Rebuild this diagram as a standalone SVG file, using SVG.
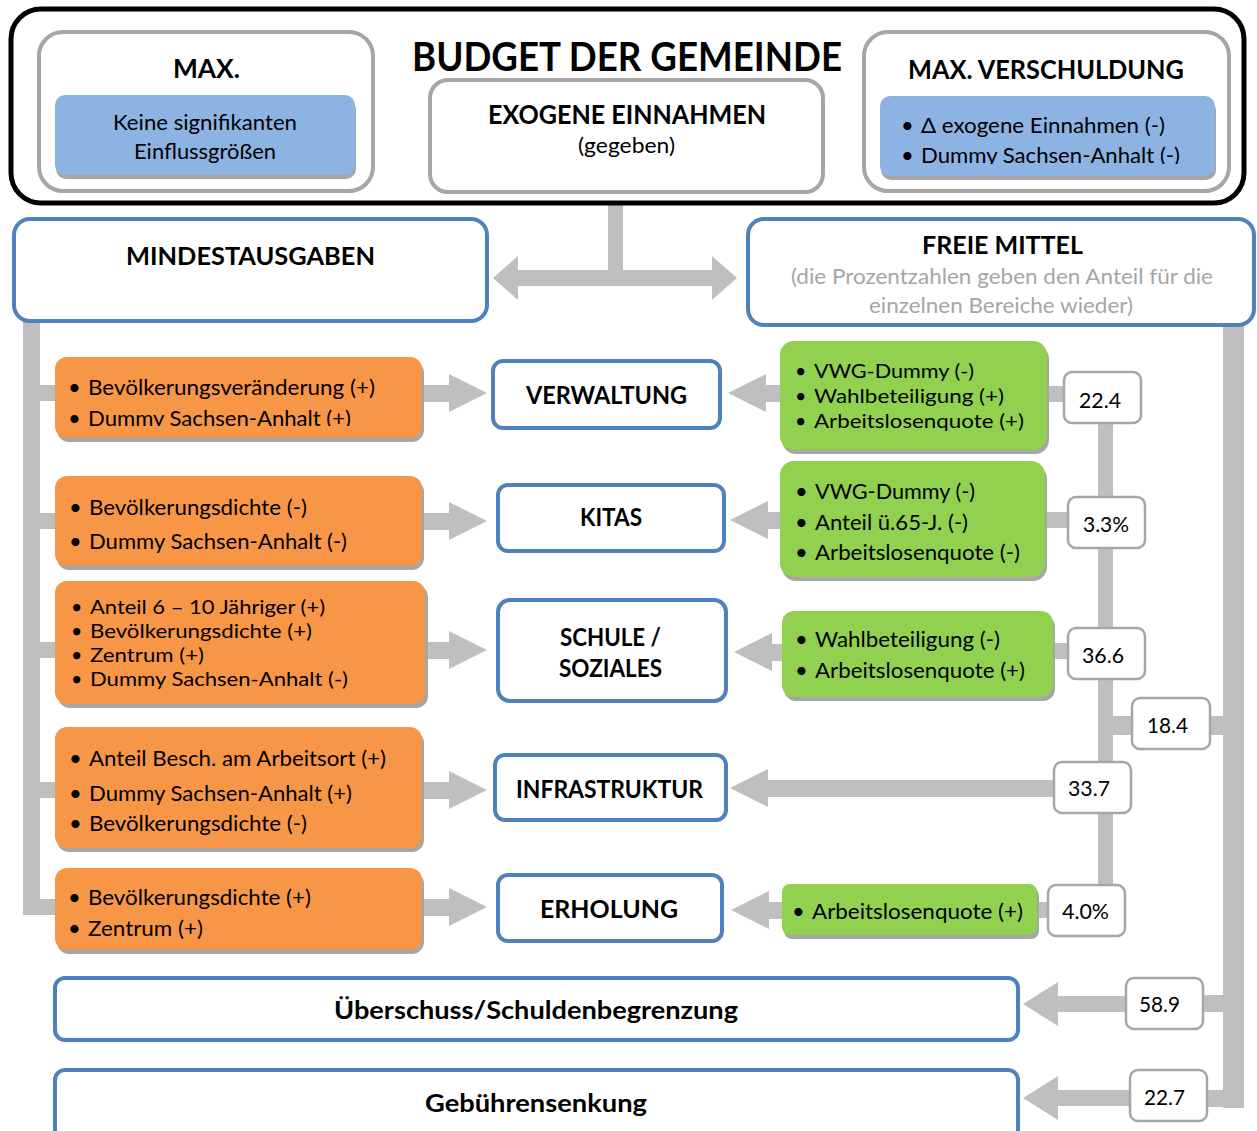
<svg xmlns="http://www.w3.org/2000/svg" width="1257" height="1131" viewBox="0 0 1257 1131">
<style>
text{font-family:Lato,"Liberation Sans",sans-serif;fill:#000}
.b{font-weight:bold}
.t19{font-size:19.5px}
.t20{font-size:21.5px}
.t21{font-size:22px}
.t24{font-size:25px}
.t25{font-size:26px}
.grey{fill:#a6a6a6}
.blk{fill:#fff;stroke:#000;stroke-width:5}
.gbox{fill:#fff;stroke:#a6a6a6;stroke-width:4}
.bbox{fill:#fff;stroke:#4f81bd;stroke-width:4}
.nbox{fill:#fff;stroke:#a6a6a6;stroke-width:2.5}
.blue{fill:#8db3e2}
.org{fill:#f79646}
.grn{fill:#92d050}
.shd{fill:#a6a6a6}
.con{fill:#bfbfbf}
</style>
<defs>
<clipPath id="clipO1"><rect x="55" y="357" width="367" height="69"/></clipPath>
<clipPath id="clipMV"><rect x="880" y="96" width="335" height="68"/></clipPath>
</defs>

<g id="connectors">
<rect class="con" x="608" y="203" width="15" height="70"/>
<rect class="con" x="517" y="270" width="196" height="16"/>
<polygon class="con" points="493,278 518,256 518,300"/>
<polygon class="con" points="737,278 712,256 712,300"/>
<rect class="con" x="23" y="321" width="17" height="594"/>
<rect class="con" x="23" y="899" width="34" height="16"/>
<rect class="con" x="38" y="385" width="19" height="16"/>
<rect class="con" x="38" y="513" width="19" height="16"/>
<rect class="con" x="38" y="642" width="19" height="16"/>
<rect class="con" x="38" y="782" width="19" height="16"/>
<rect class="con" x="420" y="385" width="30" height="17"/>
<polygon class="con" points="449,374 487,393 449,412"/>
<rect class="con" x="420" y="513" width="30" height="17"/>
<polygon class="con" points="449,502 487,521 449,540"/>
<rect class="con" x="420" y="642" width="30" height="17"/>
<polygon class="con" points="449,631 487,650 449,669"/>
<rect class="con" x="420" y="782" width="30" height="17"/>
<polygon class="con" points="449,771 487,790 449,809"/>
<rect class="con" x="420" y="899" width="30" height="17"/>
<polygon class="con" points="449,888 487,907 449,926"/>
<polygon class="con" points="728,393 766,374 766,412"/>
<rect class="con" x="765" y="385" width="17" height="17"/>
<rect class="con" x="1045" y="386" width="21" height="16"/>
<polygon class="con" points="730,520 768,501 768,539"/>
<rect class="con" x="767" y="512" width="15" height="17"/>
<rect class="con" x="1043" y="512" width="27" height="16"/>
<polygon class="con" points="734,652 772,633 772,671"/>
<rect class="con" x="771" y="644" width="13" height="17"/>
<rect class="con" x="1051" y="643" width="19" height="16"/>
<polygon class="con" points="730,788 768,769 768,807"/>
<rect class="con" x="767" y="780" width="289" height="17"/>
<polygon class="con" points="731,910 769,891 769,929"/>
<rect class="con" x="768" y="902" width="16" height="17"/>
<rect class="con" x="1035" y="902" width="15" height="16"/>
<rect class="con" x="1098" y="422" width="15" height="464"/>
<rect class="con" x="1105" y="716" width="29" height="19"/>
<rect class="con" x="1223" y="324" width="21" height="784"/>
<rect class="con" x="1208" y="716" width="17" height="19"/>
<rect class="con" x="1201" y="995" width="24" height="17"/>
<rect class="con" x="1205" y="1090" width="39" height="17"/>
<polygon class="con" points="1023,1004 1058,982 1058,1026"/>
<rect class="con" x="1057" y="996" width="71" height="16"/>
<polygon class="con" points="1023,1098 1058,1076 1058,1120"/>
<rect class="con" x="1057" y="1090" width="75" height="16"/>
</g>

<g id="budget">
<rect class="blk" x="11" y="9" width="1233" height="194" rx="30"/>
<text class="b" x="412" y="71" font-size="40" textLength="430" lengthAdjust="spacingAndGlyphs">BUDGET DER GEMEINDE</text>
</g>

<g id="max">
<rect class="gbox" x="39" y="32" width="334" height="159" rx="24"/>
<text class="b t25" x="173" y="78" textLength="67" lengthAdjust="spacingAndGlyphs">MAX.</text>
<rect class="shd" x="56" y="99" width="300" height="80" rx="10"/>
<rect class="blue" x="55" y="95" width="300" height="80" rx="10"/>
<text class="t21" x="113" y="130" textLength="184" lengthAdjust="spacingAndGlyphs">Keine signifikanten</text>
<text class="t21" x="134" y="159" textLength="142" lengthAdjust="spacingAndGlyphs">Einflussgrößen</text>
</g>

<g id="exogen">
<rect class="gbox" x="430" y="80" width="393" height="112" rx="18"/>
<text class="b t25" x="488" y="124" textLength="278" lengthAdjust="spacingAndGlyphs">EXOGENE EINNAHMEN</text>
<text class="t20" x="578" y="153" textLength="97" lengthAdjust="spacingAndGlyphs">(gegeben)</text>
</g>

<g id="maxversch">
<rect class="gbox" x="864" y="32" width="365" height="159" rx="24"/>
<text class="b t25" x="908" y="79" textLength="276" lengthAdjust="spacingAndGlyphs">MAX. VERSCHULDUNG</text>
<rect class="shd" x="881" y="100" width="335" height="80" rx="10"/>
<rect class="blue" x="880" y="96" width="335" height="80" rx="10"/>
<g clip-path="url(#clipMV)">
<text class="t21" x="901" y="133">•</text>
<text class="t21" x="921" y="133" textLength="244" lengthAdjust="spacingAndGlyphs">Δ exogene Einnahmen (-)</text>
<text class="t21" x="901" y="163">•</text>
<text class="t21" x="921" y="163" textLength="259" lengthAdjust="spacingAndGlyphs">Dummy Sachsen-Anhalt (-)</text>
</g>
</g>

<g id="mindest">
<rect class="bbox" x="14" y="219" width="473" height="102" rx="16"/>
<text class="b t24" x="126" y="265" textLength="249" lengthAdjust="spacingAndGlyphs">MINDESTAUSGABEN</text>
</g>

<g id="freie">
<rect class="bbox" x="748" y="219" width="506" height="106" rx="16"/>
<text class="b t24" x="922" y="254" textLength="161" lengthAdjust="spacingAndGlyphs">FREIE MITTEL</text>
<text class="t20 grey" x="791" y="284" textLength="422" lengthAdjust="spacingAndGlyphs">(die Prozentzahlen geben den Anteil für die</text>
<text class="t20 grey" x="869" y="313" textLength="264" lengthAdjust="spacingAndGlyphs">einzelnen Bereiche wieder)</text>
</g>

<g id="o1">
<rect class="shd" x="57" y="361" width="367" height="81" rx="12"/>
<rect class="org" x="55" y="357" width="367" height="81" rx="12"/>
<g clip-path="url(#clipO1)">
<text class="t21" x="68" y="395">•</text>
<text class="t20" x="88" y="395" textLength="287" lengthAdjust="spacingAndGlyphs">Bevölkerungsveränderung (+)</text>
<text class="t21" x="68" y="426">•</text>
<text class="t20" x="88" y="426" textLength="263" lengthAdjust="spacingAndGlyphs">Dummy Sachsen-Anhalt (+)</text>
</g>
</g>

<g id="o2">
<rect class="shd" x="57" y="480" width="367" height="90" rx="12"/>
<rect class="org" x="55" y="476" width="367" height="90" rx="12"/>
<text class="t21" x="69" y="515">•</text>
<text class="t20" x="89" y="515" textLength="218" lengthAdjust="spacingAndGlyphs">Bevölkerungsdichte (-)</text>
<text class="t21" x="69" y="549">•</text>
<text class="t20" x="89" y="549" textLength="258" lengthAdjust="spacingAndGlyphs">Dummy Sachsen-Anhalt (-)</text>
</g>

<g id="o3">
<rect class="shd" x="58" y="585" width="370" height="123" rx="12"/>
<rect class="org" x="55" y="581" width="370" height="123" rx="12"/>
<text class="t19" x="71" y="614">•</text>
<text class="t19" x="90" y="614" textLength="235" lengthAdjust="spacingAndGlyphs">Anteil 6 – 10 Jähriger (+)</text>
<text class="t19" x="71" y="638">•</text>
<text class="t19" x="90" y="638" textLength="222" lengthAdjust="spacingAndGlyphs">Bevölkerungsdichte (+)</text>
<text class="t19" x="71" y="662">•</text>
<text class="t19" x="90" y="662" textLength="114" lengthAdjust="spacingAndGlyphs">Zentrum (+)</text>
<text class="t19" x="71" y="686">•</text>
<text class="t19" x="90" y="686" textLength="258" lengthAdjust="spacingAndGlyphs">Dummy Sachsen-Anhalt (-)</text>
</g>

<g id="o4">
<rect class="shd" x="57" y="731" width="367" height="121" rx="12"/>
<rect class="org" x="55" y="727" width="367" height="121" rx="12"/>
<text class="t21" x="69" y="766">•</text>
<text class="t20" x="89" y="766" textLength="297" lengthAdjust="spacingAndGlyphs">Anteil Besch. am Arbeitsort (+)</text>
<text class="t21" x="69" y="801">•</text>
<text class="t20" x="89" y="801" textLength="263" lengthAdjust="spacingAndGlyphs">Dummy Sachsen-Anhalt (+)</text>
<text class="t21" x="69" y="831">•</text>
<text class="t20" x="89" y="831" textLength="218" lengthAdjust="spacingAndGlyphs">Bevölkerungsdichte (-)</text>
</g>

<g id="o5">
<rect class="shd" x="57" y="872" width="367" height="82" rx="12"/>
<rect class="org" x="55" y="868" width="367" height="82" rx="12"/>
<text class="t21" x="68" y="905">•</text>
<text class="t20" x="88" y="905" textLength="223" lengthAdjust="spacingAndGlyphs">Bevölkerungsdichte (+)</text>
<text class="t21" x="68" y="936">•</text>
<text class="t20" x="88" y="936" textLength="115" lengthAdjust="spacingAndGlyphs">Zentrum (+)</text>
</g>

<g id="verwaltung">
<rect class="bbox" x="493" y="361" width="227" height="67" rx="10"/>
<text class="b t24" x="526" y="404" textLength="161" lengthAdjust="spacingAndGlyphs">VERWALTUNG</text>
</g>
<g id="kitas">
<rect class="bbox" x="498" y="485" width="226" height="66" rx="10"/>
<text class="b t24" x="580" y="526" textLength="62" lengthAdjust="spacingAndGlyphs">KITAS</text>
</g>
<g id="schule">
<rect class="bbox" x="498" y="600" width="228" height="101" rx="12"/>
<text class="b t24" x="560" y="646" textLength="101" lengthAdjust="spacingAndGlyphs">SCHULE /</text>
<text class="b t24" x="559" y="677" textLength="103" lengthAdjust="spacingAndGlyphs">SOZIALES</text>
</g>
<g id="infra">
<rect class="bbox" x="495" y="755" width="231" height="65" rx="10"/>
<text class="b t24" x="516" y="798" textLength="187" lengthAdjust="spacingAndGlyphs">INFRASTRUKTUR</text>
</g>
<g id="erholung">
<rect class="bbox" x="498" y="875" width="224" height="66" rx="10"/>
<text class="b t24" x="540" y="918" textLength="138" lengthAdjust="spacingAndGlyphs">ERHOLUNG</text>
</g>

<g id="g1">
<rect class="shd" x="782" y="345" width="267" height="109" rx="14"/>
<rect class="grn" x="780" y="341" width="267" height="109" rx="14"/>
<text class="t19" x="795" y="378">•</text>
<text class="t19" x="814" y="378" textLength="160" lengthAdjust="spacingAndGlyphs">VWG-Dummy (-)</text>
<text class="t19" x="795" y="403">•</text>
<text class="t19" x="814" y="403" textLength="190" lengthAdjust="spacingAndGlyphs">Wahlbeteiligung (+)</text>
<text class="t19" x="795" y="428">•</text>
<text class="t19" x="814" y="428" textLength="210" lengthAdjust="spacingAndGlyphs">Arbeitslosenquote (+)</text>
</g>
<g id="g2">
<rect class="shd" x="782" y="465" width="265" height="116" rx="14"/>
<rect class="grn" x="780" y="461" width="265" height="116" rx="14"/>
<text class="t21" x="795" y="499">•</text>
<text class="t20" x="815" y="499" textLength="160" lengthAdjust="spacingAndGlyphs">VWG-Dummy (-)</text>
<text class="t21" x="795" y="530">•</text>
<text class="t20" x="815" y="530" textLength="153" lengthAdjust="spacingAndGlyphs">Anteil ü.65-J. (-)</text>
<text class="t21" x="795" y="560">•</text>
<text class="t20" x="815" y="560" textLength="205" lengthAdjust="spacingAndGlyphs">Arbeitslosenquote (-)</text>
</g>
<g id="g3">
<rect class="shd" x="784" y="615" width="271" height="86" rx="12"/>
<rect class="grn" x="782" y="611" width="271" height="86" rx="12"/>
<text class="t21" x="795" y="647">•</text>
<text class="t20" x="815" y="647" textLength="185" lengthAdjust="spacingAndGlyphs">Wahlbeteiligung (-)</text>
<text class="t21" x="795" y="678">•</text>
<text class="t20" x="815" y="678" textLength="210" lengthAdjust="spacingAndGlyphs">Arbeitslosenquote (+)</text>
</g>
<g id="g4">
<rect class="shd" x="784" y="888" width="255" height="51" rx="8"/>
<rect class="grn" x="782" y="884" width="255" height="51" rx="8"/>
<text class="t21" x="792" y="919">•</text>
<text class="t20" x="812" y="919" textLength="211" lengthAdjust="spacingAndGlyphs">Arbeitslosenquote (+)</text>
</g>

<g id="n224"><rect class="nbox" x="1064" y="372" width="77" height="51" rx="8"/><text class="t20" x="1079" y="408" textLength="42" lengthAdjust="spacingAndGlyphs">22.4</text></g>
<g id="n33"><rect class="nbox" x="1068" y="497" width="77" height="51" rx="8"/><text class="t20" x="1083" y="532" textLength="46" lengthAdjust="spacingAndGlyphs">3.3%</text></g>
<g id="n366"><rect class="nbox" x="1068" y="628" width="77" height="51" rx="8"/><text class="t20" x="1082" y="663" textLength="42" lengthAdjust="spacingAndGlyphs">36.6</text></g>
<g id="n184"><rect class="nbox" x="1132" y="698" width="78" height="51" rx="8"/><text class="t20" x="1147" y="733" textLength="41" lengthAdjust="spacingAndGlyphs">18.4</text></g>
<g id="n337"><rect class="nbox" x="1054" y="762" width="77" height="51" rx="8"/><text class="t20" x="1068" y="796" textLength="42" lengthAdjust="spacingAndGlyphs">33.7</text></g>
<g id="n40"><rect class="nbox" x="1048" y="885" width="77" height="51" rx="8"/><text class="t20" x="1062" y="919" textLength="47" lengthAdjust="spacingAndGlyphs">4.0%</text></g>
<g id="n589"><rect class="nbox" x="1126" y="978" width="77" height="51" rx="8"/><text class="t20" x="1139" y="1012" textLength="41" lengthAdjust="spacingAndGlyphs">58.9</text></g>
<g id="n227"><rect class="nbox" x="1130" y="1070" width="77" height="51" rx="8"/><text class="t20" x="1144" y="1105" textLength="41" lengthAdjust="spacingAndGlyphs">22.7</text></g>

<g id="ueberschuss">
<rect class="bbox" x="55" y="978" width="963" height="62" rx="10"/>
<text class="b t24" x="334" y="1019" textLength="404" lengthAdjust="spacingAndGlyphs">Überschuss/Schuldenbegrenzung</text>
</g>
<g id="gebuehren">
<rect class="bbox" x="55" y="1070" width="963" height="80" rx="10"/>
<text class="b t24" x="425" y="1112" textLength="222" lengthAdjust="spacingAndGlyphs">Gebührensenkung</text>
</g>
</svg>
